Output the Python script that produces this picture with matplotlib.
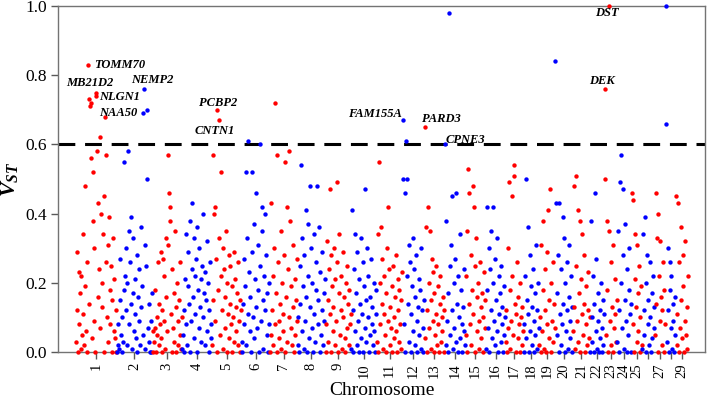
import matplotlib
matplotlib.use("Agg")
import matplotlib.pyplot as plt
import numpy as np

# V_ST values (in hundredths), read left to right along each chromosome
chr1 = [3, 29, 12, 0, 23, 8, 17, 1, 22, 5, 11, 34, 2, 19, 48, 6, 26, 0, 83, 73,
        14, 71, 72, 56, 4, 52, 38, 9, 30, 0, 75, 74, 58, 16, 43, 24, 62, 7, 40, 20,
        13, 34, 0, 45, 68, 57, 26, 10, 31, 3, 39, 18, 8, 25, 0, 15, 33, 6, 21, 4,
        12, 0]
chr2 = [0, 2, 8, 1, 15, 27, 5, 10, 0, 3, 18, 55, 22, 12, 30, 2, 20, 58, 35, 8,
        26, 14, 39, 1, 17, 33, 6, 21, 11, 4, 28, 0, 16, 24, 9, 2, 36, 13, 19, 69,
        5, 76, 31, 1, 25, 50, 70, 7, 14, 3, 0, 9, 0, 17]
chr3 = [0, 6, 3, 18, 7, 0, 10, 5, 26, 2, 14, 8, 29, 4, 0, 12, 27, 9, 22, 1,
        33, 16, 6, 31, 57, 46, 42, 38, 11, 0, 24, 7, 17, 3, 35, 13, 0, 20, 9, 2,
        15, 5, 26, 1, 10]
chr4 = [1, 5, 0, 12, 21, 8, 34, 2, 19, 29, 14, 0, 38, 9, 24, 43, 16, 4, 33, 22,
        11, 27, 0, 36, 18, 7, 30, 13, 21, 3, 25, 40, 10, 17, 2, 23, 15, 6, 32, 20,
        0, 12, 26, 8, 4]
chr5 = [2, 57, 15, 40, 42, 9, 27, 70, 0, 18, 67, 33, 5, 52, 22, 12, 30, 1, 24, 7,
        16, 35, 0, 20, 11, 28, 4, 14, 25, 8, 19, 0, 10, 29, 3, 21, 13, 6, 17, 26,
        2, 9, 15, 0, 12]
chr6 = [3, 0, 14, 27, 8, 19, 52, 2, 33, 11, 61, 23, 6, 16, 0, 29, 52, 10, 37, 4,
        21, 13, 46, 7, 31, 18, 0, 25, 60, 9, 35, 42, 15, 1, 22, 40, 12, 28, 5, 17,
        0, 20, 8]
chr7 = [0, 5, 43, 12, 22, 2, 30, 8, 72, 17, 0, 57, 26, 9, 4, 14, 35, 1, 20, 11,
        6, 28, 0, 55, 16, 42, 3, 24, 58, 10, 38, 7, 19, 2, 13, 31, 0, 21, 5, 15,
        9, 27]
chr8 = [2, 10, 0, 25, 14, 54, 6, 33, 19, 1, 28, 9, 41, 16, 0, 22, 37, 4, 13, 48,
        30, 7, 20, 0, 11, 34, 3, 26, 18, 48, 8, 15, 36, 0, 23, 5, 12, 29, 2, 17,
        9, 21]
chr9 = [0, 8, 32, 15, 3, 24, 47, 11, 0, 28, 19, 6, 13, 30, 2, 21, 9, 49, 26, 0,
        17, 34, 5, 12, 22, 1, 10, 29, 16, 4, 0, 20, 7, 25, 14, 2, 18, 8, 11]
chr10 = [1, 41, 12, 0, 24, 6, 34, 17, 2, 29, 9, 0, 21, 14, 33, 4, 11, 26, 0, 19,
         7, 47, 15, 3, 30, 10, 22, 0, 5, 16, 27, 8, 13, 2, 20, 6, 0, 11, 18]
chr11 = [3, 34, 0, 55, 20, 8, 36, 14, 27, 1, 11, 22, 5, 0, 17, 30, 9, 42, 24, 2,
         13, 7, 19, 0, 25, 10, 4, 16, 28, 6, 0, 12, 21, 3, 18, 8, 15, 1, 23]
chr12 = [67, 50, 8, 0, 46, 61, 22, 50, 14, 31, 3, 26, 11, 0, 19, 33, 6, 24, 16, 2,
         28, 9, 0, 13, 21, 5, 18, 30, 1, 12, 7, 0, 15]
chr13 = [65, 4, 36, 12, 0, 42, 20, 7, 35, 15, 1, 27, 9, 23, 0, 17, 5, 25, 11, 2,
         19, 8, 0, 14, 22, 3, 10, 6, 16, 0, 12]
chr14 = [60, 2, 38, 9, 17, 0, 98, 25, 5, 31, 12, 45, 1, 20, 7, 27, 46, 3, 14, 0,
         22, 10, 34, 4, 18, 8, 0, 13, 24, 6, 2]
chr15 = [5, 22, 35, 0, 53, 14, 46, 8, 28, 2, 18, 48, 11, 42, 25, 0, 33, 16, 6, 20,
         9, 1, 26, 13, 4, 17, 0, 10, 23, 7, 15]
chr16 = [1, 42, 18, 7, 30, 0, 24, 12, 35, 4, 42, 20, 9, 27, 2, 15, 33, 6, 0, 22,
         11, 17, 3, 25, 8, 13, 0, 19, 5, 10]
chr17 = [3, 12, 0, 30, 7, 49, 18, 1, 9, 45, 22, 5, 54, 51, 14, 0, 11, 26, 4, 16,
         8, 0, 20, 10, 2, 13, 6]
chr18 = [0, 8, 22, 50, 4, 15, 36, 11, 0, 28, 6, 19, 2, 13, 24, 9, 0, 17, 5, 31,
         12, 1, 20, 7]
chr19 = [2, 10, 0, 31, 6, 18, 38, 1, 24, 12, 0, 29, 8, 41, 15, 4, 47, 20, 0, 9,
         26, 3, 14, 7]
chr20 = [84, 43, 5, 17, 28, 0, 43, 11, 2, 24, 8, 39, 14, 33, 0, 20, 6, 26, 12, 1,
         31, 16, 4, 9, 22, 0, 13]
chr21 = [6, 48, 13, 1, 25, 51, 9, 41, 3, 17, 38, 0, 21, 11, 34, 5, 28, 14, 0, 8,
         19, 2, 12, 23, 4, 10]
chr22 = [0, 38, 10, 3, 22, 0, 14, 46, 6, 27, 1, 17, 9, 0, 12, 4, 20, 7, 0, 15,
         2, 11]
chr23 = [76, 50, 5, 38, 18, 0, 100, 35, 9, 26, 2, 13, 31, 0, 7, 21, 11, 3, 15]
chr24 = [3, 35, 12, 0, 49, 20, 57, 7, 47, 28, 1, 37, 15, 9, 0, 24, 5, 18, 30, 11,
         0, 14]
chr25 = [46, 8, 44, 0, 21, 34, 13, 3, 31, 17, 6, 25, 0, 10, 19, 2]
chr26 = [1, 34, 12, 5, 39, 0, 20, 28, 8, 15, 2, 26, 10, 0, 17, 4, 22, 7, 13]
chr27 = [5, 46, 14, 33, 0, 40, 22, 9, 32, 16, 2, 12, 26, 0, 18, 8]
chr28 = [100, 66, 3, 30, 12, 0, 26, 18, 7, 22, 1, 14, 9, 0, 16, 5]
chr29 = [45, 2, 11, 43, 0, 26, 7, 36, 15, 4, 28, 19, 0, 9, 32, 5, 13, 1, 22]

CHROMS = [chr1, chr2, chr3, chr4, chr5, chr6, chr7, chr8, chr9, chr10,
          chr11, chr12, chr13, chr14, chr15, chr16, chr17, chr18, chr19, chr20,
          chr21, chr22, chr23, chr24, chr25, chr26, chr27, chr28, chr29]
CHROM_NAMES = [str(i) for i in range(1, 30)]
HIDDEN_LABELS = {"26", "28"}  # dropped on the original axis (overlap)

THRESHOLD = 0.6

GENE_NAMES = ["TOMM70", "MB21D2", "NLGN1", "NAA50", "NEMP2", "PCBP2", "CNTN1",
              "FAM155A", "PARD3", "CPNE3", "DST", "DEK"]
GENE_CHROM = [1, 1, 1, 1, 2, 5, 5, 12, 13, 14, 23, 23]
GENE_VST = [83, 75, 74, 68, 76, 70, 67, 67, 65, 60, 100, 76]

# label placement, pixels relative to the marked point
LABEL_OFFSET = {
    "TOMM70": (6, 0, "left"), "MB21D2": (-6, 9, "center"), "NLGN1": (3, -1, "left"),
    "NAA50": (-6, 4, "left"), "NEMP2": (8, 9, "center"), "PCBP2": (2, 7, "center"),
    "CNTN1": (-4, -11, "center"), "FAM155A": (-1, 6, "right"), "PARD3": (17, 8, "center"),
    "CPNE3": (1, 4, "left"), "DST": (-2, -7, "center"), "DEK": (-3, 8, "center"),
}

plt.rcParams["font.family"] = ["Liberation Serif", "DejaVu Serif"]
plt.rcParams["mathtext.fontset"] = "custom"
plt.rcParams["mathtext.it"] = "Liberation Serif:italic:bold"
plt.rcParams["mathtext.rm"] = "Liberation Serif:bold"

fig = plt.figure(figsize=(7.09, 4.0), dpi=100)
ax = fig.add_axes([58 / 709, 1 - 352 / 400, (705 - 58) / 709, (352 - 6) / 400])

colors = ["red", "blue"]
start = 0
centers, xs_by_chrom = [], []
for i, vals in enumerate(CHROMS):
    y = np.asarray(vals, dtype=float) / 100.0
    x = start + np.arange(len(y))
    xs_by_chrom.append(x)
    ax.scatter(x, y, s=10, c=colors[i % 2], linewidths=0, zorder=3, clip_on=False)
    centers.append(start + (len(y) - 1) / 2)
    start += len(y)
n_total = start

ppi = (688 - 76) / (n_total - 1)
ax.set_xlim(-(76 - 58) / ppi, n_total - 1 + (705 - 688) / ppi)
ax.set_ylim(0, 1)

ax.axhline(THRESHOLD, color="black", lw=2.2, ls=(0, (5.5, 3.2)), zorder=2)

for name, ch, v in zip(GENE_NAMES, GENE_CHROM, GENE_VST):
    vals = CHROMS[ch - 1]
    idx = vals.index(v)
    px = xs_by_chrom[ch - 1][idx]
    dx, dy, ha = LABEL_OFFSET[name]
    ax.annotate(name, (px, v / 100.0), xytext=(dx, dy), textcoords="offset pixels",
                ha=ha, va="center", fontsize=9, fontweight="bold", fontstyle="italic",
                zorder=4, annotation_clip=False)

ax.set_xticks(centers)
ax.set_xticklabels(["" if n in HIDDEN_LABELS else n for n in CHROM_NAMES],
                   rotation=90, fontsize=10.5)
ax.set_yticks([0, 0.2, 0.4, 0.6, 0.8, 1.0])
ax.set_yticklabels(["0.0", "0.2", "0.4", "0.6", "0.8", "1.0"], fontsize=12.5)
ax.tick_params(axis="both", direction="out", length=5, width=1, color="0.35", pad=3)

for sp in ax.spines.values():
    sp.set_color("0.45")
    sp.set_linewidth(1.0)

ax.set_xlabel("Chromosome", fontsize=14, labelpad=3)
ax.set_ylabel(r"$V_{ST}$", fontsize=16, labelpad=4)

fig.savefig("out.png", dpi=100)
